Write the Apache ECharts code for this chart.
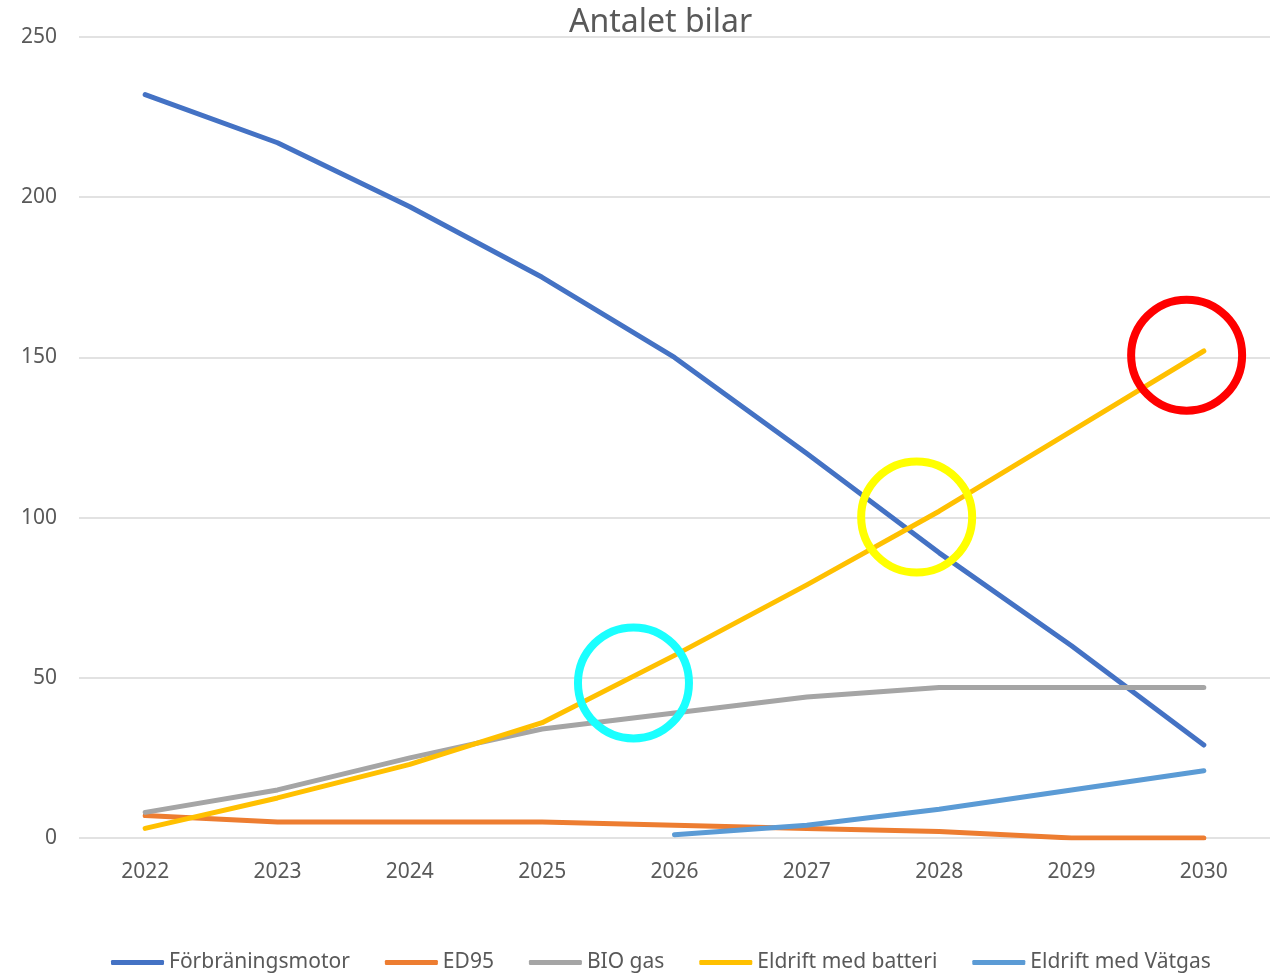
<!DOCTYPE html>
<html>
<head>
<meta charset="utf-8">
<title>Antalet bilar</title>
<script src="https://cdn.jsdelivr.net/npm/echarts@6/dist/echarts.min.js"></script>
<style>
    html, body { margin: 0; padding: 0; background: #fff; }
    #chart { width: 1274px; height: 975px; }
</style>
</head>
<body>
<div id="chart"></div>
<script>
// årtal
var years = ['2022', '2023', '2024', '2025', '2026', '2027', '2028', '2029', '2030']

// serier
var forbraning = [232, 217, 197, 175, 150, 120, 89, 60, 29]
var ed95 = [7, 5, 5, 5, 4, 3, 2, 0, 0]
var bioGas = [8, 15, 25, 34, 39, 44, 47, 47, 47]
var batteri = [3, 12.5, 23, 36, 57, 79, 102, 127, 152]
var vatgas = [null, null, null, null, 1, 4, 9, 15, 21]

var seriesNames = ['Förbräningsmotor', 'ED95', 'BIO gas', 'Eldrift med batteri', 'Eldrift med Vätgas']
var seriesColors = ['#4472C4', '#ED7D31', '#A5A5A5', '#FFC000', '#5B9BD5']

// ringar (markeringar), x i kategori-index
var ringX = [3.69, 5.83, 7.87]
var ringY = [48.4, 100.2, 150.7]
var ringColors = ['#1AFFFF', '#FFFF00', '#FF0000']

var textColor = '#595959'
var font = '"Noto Sans", "Open Sans", sans-serif'

function lineSeries (name, data, color) {
    return {
        name: name,
        type: 'line',
        data: data,
        symbol: 'none',
        color: color,
        lineStyle: { width: 5, color: color, cap: 'round', join: 'round' },
        emphasis: { disabled: true },
        z: 2
    }
}

var chart = echarts.init(document.getElementById('chart'))

var option = {
    animation: false,
    textStyle: { fontFamily: font },
    title: {
        text: 'Antalet bilar',
        left: 564,
        top: 2,
        textStyle: { fontSize: 32, fontWeight: 'normal', color: textColor, fontFamily: font }
    },
    legend: {
        data: seriesNames,
        top: 952,
        left: 111,
        padding: 0,
        itemGap: 35,
        itemWidth: 53,
        itemHeight: 5,
        icon: 'roundRect',
        textStyle: { fontSize: 21, color: textColor, fontFamily: font }
    },
    grid: { left: 79, right: 4, top: 37, bottom: 137 },
    xAxis: [
        {
            type: 'category',
            data: years,
            boundaryGap: true,
            axisLine: { show: false },
            axisTick: { show: false },
            axisLabel: { fontSize: 21, color: textColor, margin: 24, fontFamily: font }
        },
        {
            type: 'value',
            min: -0.5,
            max: 8.5,
            show: false
        }
    ],
    yAxis: {
        type: 'value',
        min: 0,
        max: 250,
        interval: 50,
        axisLine: { show: false },
        axisTick: { show: false },
        axisLabel: { fontSize: 21, color: textColor, margin: 22, fontFamily: font },
        splitLine: { lineStyle: { color: '#D9D9D9', width: 1.5 } }
    },
    series: [
        lineSeries(seriesNames[0], forbraning, seriesColors[0]),
        lineSeries(seriesNames[1], ed95, seriesColors[1]),
        lineSeries(seriesNames[2], bioGas, seriesColors[2]),
        lineSeries(seriesNames[3], batteri, seriesColors[3]),
        lineSeries(seriesNames[4], vatgas, seriesColors[4]),
        {
            name: 'ringar',
            type: 'scatter',
            xAxisIndex: 1,
            symbol: 'circle',
            symbolSize: 111,
            silent: true,
            z: 5,
            data: ringX.map(function (x, i) {
                return {
                    value: [x, ringY[i]],
                    itemStyle: { color: 'rgba(0,0,0,0)', borderColor: ringColors[i], borderWidth: 8, opacity: 1 }
                }
            })
        }
    ]
}

chart.setOption(option)
</script>
</body>
</html>
